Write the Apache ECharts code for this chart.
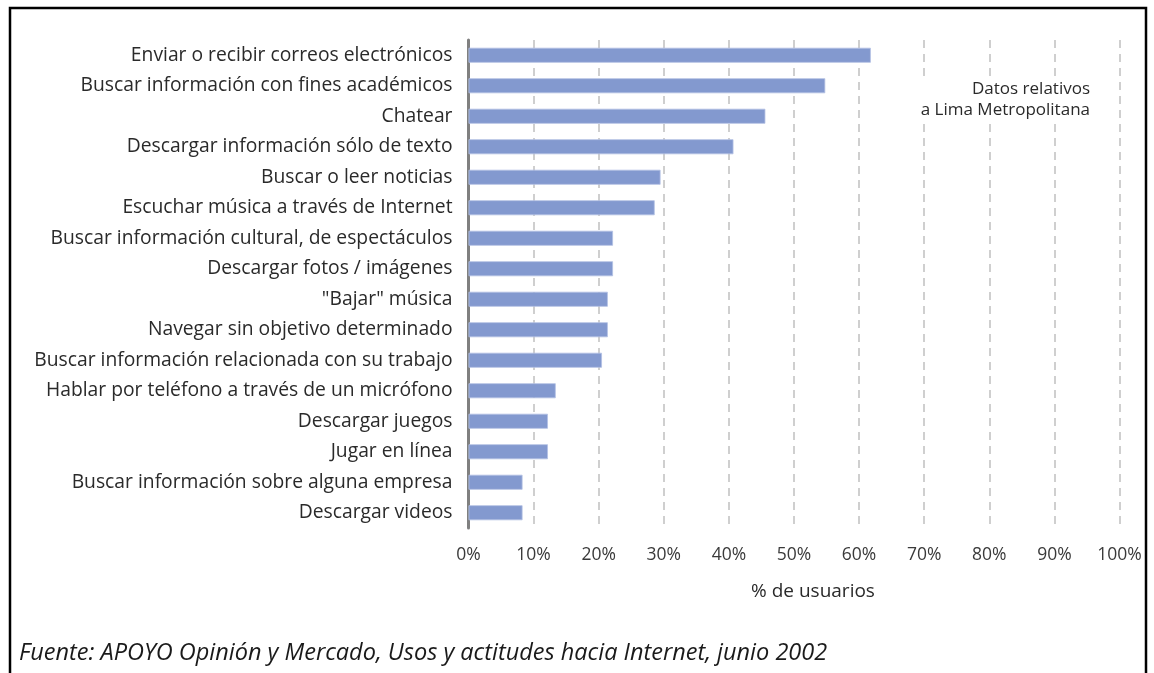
<!DOCTYPE html>
<html>
<head>
<meta charset="utf-8">
<title>Usos de Internet</title>
<script src="https://cdn.jsdelivr.net/npm/echarts@6/dist/echarts.min.js"></script>
<style>
  html, body { margin: 0; padding: 0; background: #ffffff; }
  #chart { width: 1154px; height: 673px; }
</style>
</head>
<body>
<div id="chart"></div>
<script>
// Activities, listed from top to bottom
const categories = [
  'Enviar o recibir correos electrónicos',
  'Buscar información con fines académicos',
  'Chatear',
  'Descargar información sólo de texto',
  'Buscar o leer noticias',
  'Escuchar música a través de Internet',
  'Buscar información cultural, de espectáculos',
  'Descargar fotos / imágenes',
  '"Bajar" música',
  'Navegar sin objetivo determinado',
  'Buscar información relacionada con su trabajo',
  'Hablar por teléfono a través de un micrófono',
  'Descargar juegos',
  'Jugar en línea',
  'Buscar información sobre alguna empresa',
  'Descargar videos'
];

// Share of users (%) for each activity
const usuarios = [61.8, 54.8, 45.6, 40.7, 29.5, 28.6, 22.2, 22.2, 21.4, 21.4, 20.5, 13.4, 12.2, 12.2, 8.3, 8.3];

// Percentage ticks along the value axis
const tickValues = [0, 10, 20, 30, 40, 50, 60, 70, 80, 90, 100];

const axisTitle = '% de usuarios';
const noteLines = ['Datos relativos', 'a Lima Metropolitana'];
const sourceText = 'Fuente: APOYO Opinión y Mercado, Usos y actitudes hacia Internet, junio 2002';

const FONT = '"Open Sans", "Noto Sans", sans-serif';

const chart = echarts.init(document.getElementById('chart'), null, { renderer: 'canvas' });

chart.setOption({
  animation: false,
  backgroundColor: '#ffffff',
  grid: { left: 468.5, right: 34.5, top: 40, height: 488, containLabel: false },
  xAxis: {
    type: 'value',
    min: tickValues[0],
    max: tickValues[tickValues.length - 1],
    interval: 10,
    axisLine: { show: false },
    axisTick: { show: false },
    axisLabel: {
      formatter: '{value}%',
      margin: 18,
      fontFamily: FONT,
      fontSize: 17.5,
      color: '#3a3a3a'
    },
    splitLine: {
      show: true,
      lineStyle: { color: '#cfcfcf', width: 2, type: [8, 6] }
    },
    name: axisTitle,
    nameLocation: 'middle',
    nameGap: 54,
    nameTextStyle: {
      fontFamily: FONT,
      fontSize: 19,
      color: '#2a2a2a',
      padding: [0, 0, 0, 38]
    }
  },
  yAxis: {
    type: 'category',
    data: categories,
    inverse: true,
    axisLine: { show: true, lineStyle: { color: '#808080', width: 3 } },
    axisTick: { show: false },
    axisLabel: {
      margin: 16,
      fontFamily: FONT,
      fontSize: 19.3,
      color: '#2a2a2a'
    },
    splitLine: { show: false }
  },
  series: [{
    type: 'bar',
    data: usuarios,
    barWidth: 15,
    itemStyle: { color: '#8399cf', borderColor: '#b3c0e3', borderWidth: 0.8 },
    silent: true
  }],
  graphic: [
    {
      type: 'rect',
      shape: { x: 10, y: 8, width: 1136, height: 700 },
      style: { fill: 'none', stroke: '#000000', lineWidth: 2.5 },
      silent: true
    },
    {
      // Note box: the white backdrop hides the grid lines behind the text
      type: 'text',
      x: 1094,
      y: 77,
      z: 10,
      style: {
        text: noteLines.join('\n'),
        align: 'right',
        verticalAlign: 'top',
        fontFamily: FONT,
        fontSize: 17,
        lineHeight: 21,
        fill: '#2a2a2a',
        backgroundColor: '#ffffff',
        padding: [2, 4, 2, 6]
      }
    },
    {
      type: 'text',
      x: 19,
      y: 653,
      style: {
        text: sourceText,
        verticalAlign: 'middle',
        fontFamily: FONT,
        fontStyle: 'italic',
        fontSize: 23.5,
        fill: '#1a1a1a'
      }
    }
  ]
});
</script>
</body>
</html>
